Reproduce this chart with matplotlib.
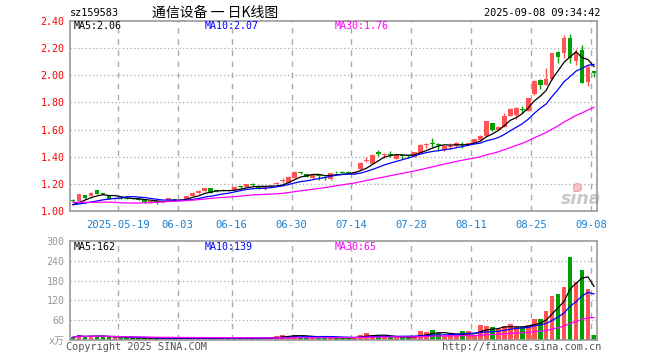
import numpy as np
import pandas as pd
import matplotlib
matplotlib.use("Agg")
import matplotlib.pyplot as plt

# ---------------- data ----------------
opens = [1.078, 1.076, 1.115, 1.111, 1.155, 1.128, 1.113, 1.085, 1.095, 1.094,
         1.093, 1.092, 1.087, 1.065, 1.068, 1.066, 1.081, 1.085, 1.082, 1.081,
         1.110, 1.130, 1.145, 1.167, 1.150, 1.148, 1.152, 1.155, 1.180, 1.177,
         1.195, 1.184, 1.160, 1.178, 1.198, 1.220, 1.209, 1.246, 1.283, 1.270,
         1.240, 1.262, 1.250, 1.234, 1.290, 1.285, 1.285, 1.280, 1.310, 1.370,
         1.345, 1.437, 1.415, 1.420, 1.386, 1.410, 1.410, 1.400, 1.430, 1.485,
         1.500, 1.490, 1.450, 1.475, 1.478, 1.495, 1.495, 1.502, 1.520, 1.555,
         1.646, 1.598, 1.622, 1.700, 1.708, 1.750, 1.738, 1.865, 1.966, 1.929,
         1.970, 2.174, 2.167, 2.277, 2.105, 2.186, 1.951, 2.030]
highs = [1.085, 1.128, 1.120, 1.138, 1.158, 1.136, 1.116, 1.096, 1.100, 1.098,
         1.098, 1.095, 1.089, 1.072, 1.072, 1.072, 1.096, 1.090, 1.088, 1.112,
         1.137, 1.153, 1.170, 1.170, 1.156, 1.160, 1.156, 1.181, 1.186, 1.198,
         1.205, 1.187, 1.180, 1.190, 1.215, 1.245, 1.256, 1.292, 1.290, 1.273,
         1.274, 1.270, 1.260, 1.283, 1.298, 1.292, 1.292, 1.292, 1.360, 1.400,
         1.420, 1.450, 1.430, 1.440, 1.412, 1.415, 1.416, 1.438, 1.492, 1.500,
         1.535, 1.500, 1.482, 1.500, 1.505, 1.510, 1.500, 1.530, 1.558, 1.665,
         1.650, 1.625, 1.720, 1.760, 1.765, 1.775, 1.835, 1.965, 1.970, 2.052,
         2.165, 2.180, 2.297, 2.304, 2.191, 2.223, 2.076, 2.035]
lows = [1.070, 1.074, 1.090, 1.108, 1.122, 1.118, 1.089, 1.082, 1.088, 1.087,
        1.088, 1.080, 1.062, 1.060, 1.052, 1.062, 1.079, 1.078, 1.078, 1.080,
        1.108, 1.128, 1.143, 1.132, 1.142, 1.144, 1.146, 1.153, 1.172, 1.175,
        1.186, 1.165, 1.155, 1.176, 1.190, 1.210, 1.205, 1.244, 1.270, 1.248,
        1.236, 1.230, 1.225, 1.232, 1.280, 1.278, 1.276, 1.276, 1.305, 1.360,
        1.343, 1.405, 1.390, 1.395, 1.380, 1.380, 1.393, 1.398, 1.428, 1.465,
        1.470, 1.440, 1.445, 1.460, 1.475, 1.465, 1.485, 1.500, 1.518, 1.553,
        1.590, 1.595, 1.620, 1.698, 1.675, 1.720, 1.735, 1.855, 1.900, 1.925,
        1.968, 2.088, 2.125, 2.088, 2.076, 1.941, 1.921, 1.985]
closes = [1.076, 1.125, 1.093, 1.135, 1.125, 1.125, 1.091, 1.093, 1.092, 1.091,
          1.092, 1.083, 1.064, 1.068, 1.066, 1.068, 1.093, 1.082, 1.083, 1.110,
          1.135, 1.150, 1.167, 1.135, 1.148, 1.152, 1.150, 1.179, 1.176, 1.196,
          1.190, 1.168, 1.177, 1.186, 1.202, 1.225, 1.253, 1.290, 1.281, 1.250,
          1.270, 1.258, 1.246, 1.280, 1.285, 1.280, 1.280, 1.285, 1.357, 1.375,
          1.415, 1.420, 1.420, 1.413, 1.410, 1.405, 1.405, 1.435, 1.490, 1.490,
          1.495, 1.485, 1.478, 1.480, 1.502, 1.490, 1.497, 1.527, 1.555, 1.660,
          1.598, 1.622, 1.703, 1.755, 1.760, 1.745, 1.830, 1.960, 1.929, 1.976,
          2.162, 2.137, 2.277, 2.125, 2.167, 1.946, 2.064, 2.015]
# 1 = up (red), 0 = down (green)
up = [0, 1, 0, 1, 0, 0, 0, 1, 0, 0, 0, 0, 0, 1, 0, 1, 1, 0, 1, 1,
      1, 1, 1, 0, 0, 1, 0, 1, 0, 1, 0, 0, 1, 1, 1, 1, 1, 1, 0, 0,
      1, 0, 0, 1, 0, 0, 0, 1, 1, 1, 1, 0, 1, 0, 1, 0, 0, 1, 1, 1,
      0, 0, 1, 1, 1, 0, 1, 1, 1, 1, 0, 1, 1, 1, 1, 0, 1, 1, 0, 1,
      1, 0, 1, 0, 1, 0, 1, 0]
volumes = [8, 16, 8, 13, 12, 11, 8, 8, 6, 6, 6, 6, 6, 5, 6, 5, 6, 5, 5, 6,
           6, 6, 5, 6, 5, 10, 5, 5, 5, 6, 5, 5, 6, 8, 11, 16, 13, 16, 10, 8,
           8, 7, 7, 8, 6, 7, 7, 8, 16, 20, 15, 12, 10, 8, 8, 9, 9, 10, 26, 23,
           29, 21, 13, 14, 14, 26, 26, 15, 44, 41, 38, 34, 41, 47, 39, 38, 44, 65, 65, 88,
           133, 138, 160, 252, 177, 212, 155, 15]

# moving-average values at the left edge (history before the window)
ma5_head = [1.048, 1.062, 1.080, 1.098]
ma10_head = [1.046, 1.052, 1.058, 1.066, 1.074, 1.082, 1.088, 1.093, 1.096]
ma30_head = [1.064, 1.064, 1.064, 1.064, 1.064, 1.065, 1.065, 1.064, 1.060, 1.059,
             1.059, 1.059, 1.060, 1.062, 1.064, 1.067, 1.070, 1.072, 1.074, 1.077,
             1.080, 1.084, 1.088, 1.093, 1.097, 1.100, 1.103, 1.106, 1.110]

tick_labels = ["2025-05-19", "06-03", "06-16", "06-30", "07-14", "07-28", "08-11", "08-25", "09-08"]
tick_idx = [8, 18, 27, 37, 47, 57, 67, 77, 87]
price_ticks = [1.00, 1.20, 1.40, 1.60, 1.80, 2.00, 2.20, 2.40]
vol_ticks = [60, 120, 180, 240, 300]

code = "sz159583"
title = "通信设备 一 日K线图"
stamp = "2025-09-08 09:34:42"
ma_price_text = ["MA5:2.06", "MA10:2.07", "MA30:1.76"]
ma_vol_text = ["MA5:162", "MA10:139", "MA30:65"]

# ---------------- style ----------------
RED = "#ff5454"
GREEN = "#00a000"
MA_COLORS = ["black", "#0000ff", "#ff00ff"]
GRID = "#aaaaaa"
BORDER = "#999999"
MONO = "DejaVu Sans Mono"
W, H = 660, 360


def ma(vals, n, head=None):
    s = pd.Series(vals, dtype=float)
    if head is None:
        return s.rolling(n, min_periods=1).mean().to_numpy()
    out = s.rolling(n).mean().to_numpy()
    out[:len(head)] = head
    return out


n = len(closes)
x = np.arange(n)
o = np.array(opens); c = np.array(closes); h = np.array(highs); l = np.array(lows)
cols = [RED if u else GREEN for u in up]

fig = plt.figure(figsize=(W / 100, H / 100), dpi=100)
ax1 = fig.add_axes([70 / W, 1 - 211 / H, 527 / W, 190 / H])
ax2 = fig.add_axes([70 / W, 1 - 340 / H, 527 / W, 99 / H])

for ax in (ax1, ax2):
    for sp in ax.spines.values():
        sp.set_color(BORDER)
        sp.set_linewidth(1.2)
    ax.set_xlim(-0.5, n - 0.5)
    ax.set_xticks([])
    ax.tick_params(axis="y", length=0, pad=4)
    for t in tick_idx:
        ax.axvline(t - 0.5, color=GRID, lw=1.0, ls=(0, (4, 4)), zorder=0)

# price panel
ax1.set_ylim(1.0, 2.4)
ax1.set_yticks(price_ticks)
ax1.set_yticklabels([f"{v:.2f}" for v in price_ticks], color="red", family=MONO, fontsize=7.2)
for v in price_ticks[1:-1]:
    ax1.axhline(v, color=GRID, lw=0.9, ls=(0, (1, 2)), zorder=0)

# watermark (behind the data)
ax1.text(581 / W, 1 - 199 / H, "sina", transform=fig.transFigure, color="#c8c8c8",
         fontsize=12.5, fontstyle="italic", fontweight="bold", ha="center", va="center",
         family="DejaVu Sans", zorder=1)
ax1.plot([577 / W], [1 - 187 / H], transform=fig.transFigure, marker="o", ms=6,
         mfc="#f6c0c0", mec="#eaa0a0", mew=0.6, clip_on=False, zorder=1)

ax1.vlines(x, l, h, colors=cols, lw=1.0, zorder=2)
body = np.maximum(np.abs(c - o), 0.006)
ax1.bar(x, body, bottom=np.minimum(o, c), width=0.8, color=cols, zorder=3, linewidth=0)

ma5 = ma(closes, 5, ma5_head)
ma10 = ma(closes, 10, ma10_head)
ma30 = ma(closes, 30, ma30_head)
for series, col in zip([ma5, ma10, ma30], MA_COLORS):
    ax1.plot(x, series, color=col, lw=0.9, zorder=4)

for txt, col, px in zip(ma_price_text, MA_COLORS, [74, 205, 335]):
    ax1.text(px / W, 1 - 26 / H, txt, transform=fig.transFigure, color=col,
             family=MONO, fontsize=7.2, va="center", ha="left")

# date labels
for t, lab in zip(tick_idx, tick_labels):
    ax1.text(t - 0.5, -0.05, lab, transform=ax1.get_xaxis_transform(), color="#1a80d0",
             family=MONO, fontsize=7.6, ha="center", va="top")

# volume panel
ax2.set_ylim(0, 300)
ax2.set_yticks([0] + vol_ticks)
ax2.set_yticklabels(["x万"] + [str(v) for v in vol_ticks], color=BORDER, fontsize=7.2,
                    family=[MONO, "Noto Sans CJK SC"])
for v in vol_ticks[:-1]:
    ax2.axhline(v, color=GRID, lw=0.9, ls=(0, (1, 2)), zorder=0)
ax2.bar(x, volumes, width=0.8, color=cols, linewidth=0, zorder=2)
for k, col in zip([5, 10, 30], MA_COLORS):
    ax2.plot(x, ma(volumes, k), color=col, lw=0.9, zorder=3)
for txt, col, px in zip(ma_vol_text, MA_COLORS, [74, 205, 335]):
    ax2.text(px / W, 1 - 247 / H, txt, transform=fig.transFigure, color=col,
             family=MONO, fontsize=7.2, va="center", ha="left")

# header / footer texts
fig.text(70 / W, 1 - 13 / H, code, family=MONO, fontsize=7.4, va="center", ha="left")
fig.text(215 / W, 1 - 13 / H, title, family=["Noto Sans CJK SC", "DejaVu Sans"],
         fontsize=10, va="center", ha="center")
fig.text(600 / W, 1 - 13 / H, stamp, family=MONO, fontsize=7.4, va="center", ha="right")
fig.text(66 / W, 1 - 347 / H, "Copyright 2025 SINA.COM", family=MONO, fontsize=7.4,
         color="#555555", va="center", ha="left")
fig.text(601 / W, 1 - 347 / H, "http://finance.sina.com.cn", family=MONO, fontsize=7.4,
         color="#555555", va="center", ha="right")

fig.savefig("out.png", dpi=100, facecolor="white")
